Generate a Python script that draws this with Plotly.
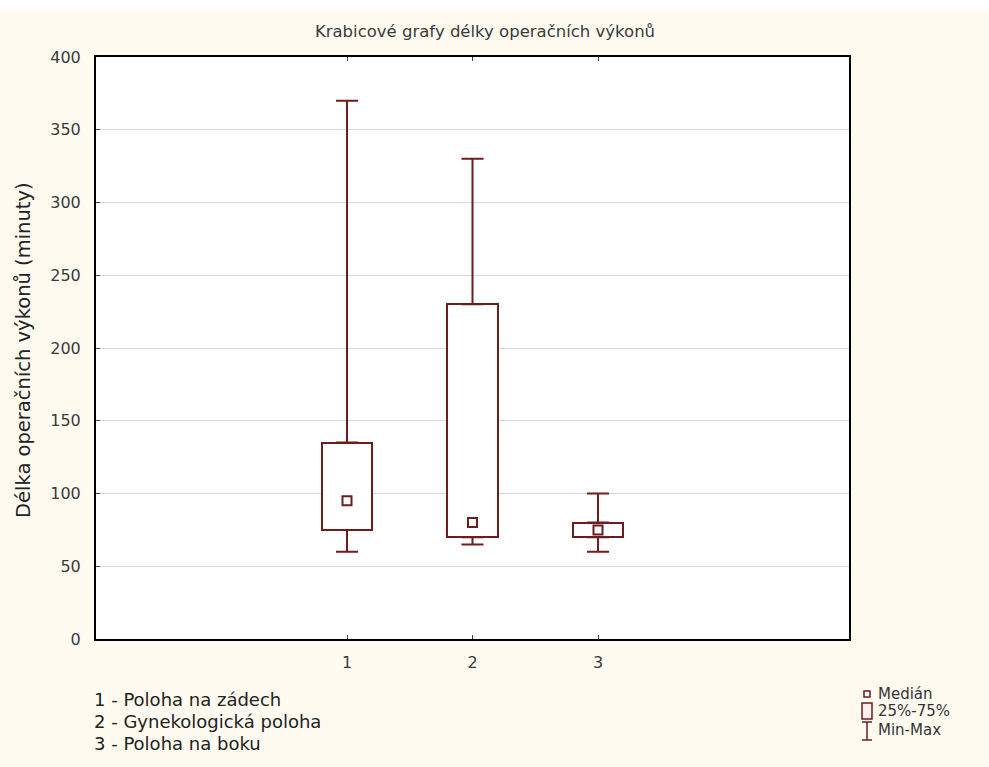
import plotly.graph_objects as go

categories = [1, 2, 3]
minimum = [60, 65, 60]
q1 = [75, 70, 70]
median = [95, 80, 75]
q3 = [135, 230, 80]
maximum = [370, 330, 100]
y_ticks = [0, 50, 100, 150, 200, 250, 300, 350, 400]
group_labels = ["1 - Poloha na zádech", "2 - Gynekologická poloha", "3 - Poloha na boku"]
legend_labels = ["Medián", "25%-75%", "Min-Max"]

DARK = "#6e1c1c"
FONT = "DejaVu Sans, Verdana, sans-serif"
BG = "#fffbf0"

TOPSTRIP = 11          # white strip at top of page
W, H = 989, 767 - TOPSTRIP
L, R, T, B = 96, 849, 57 - TOPSTRIP, 639 - TOPSTRIP
PW, PH = R - L, B - T


def px(xpix):
    return (xpix - L) / PW


def py(ypix):
    return (B - (ypix - TOPSTRIP)) / PH


fig = go.Figure()

# boxes (25%-75%)
fig.add_trace(go.Bar(
    x=categories,
    base=q1,
    y=[b - a for a, b in zip(q1, q3)],
    width=0.4,
    marker=dict(color="white", line=dict(color=DARK, width=2)),
    showlegend=False, hoverinfo="skip",
))
# upper whiskers
fig.add_trace(go.Scatter(
    x=categories, y=q3, mode="markers",
    marker=dict(size=1, color="rgba(0,0,0,0)"),
    error_y=dict(type="data", symmetric=False,
                 array=[mx - b for b, mx in zip(q3, maximum)],
                 arrayminus=[0] * len(categories),
                 color=DARK, thickness=2, width=11),
    showlegend=False, hoverinfo="skip",
))
# lower whiskers
fig.add_trace(go.Scatter(
    x=categories, y=q1, mode="markers",
    marker=dict(size=1, color="rgba(0,0,0,0)"),
    error_y=dict(type="data", symmetric=False,
                 array=[0] * len(categories),
                 arrayminus=[a - mn for a, mn in zip(q1, minimum)],
                 color=DARK, thickness=2, width=11),
    showlegend=False, hoverinfo="skip",
))
# medians
fig.add_trace(go.Scatter(
    x=categories, y=median, mode="markers",
    marker=dict(symbol="square-open", size=9, color=DARK, line=dict(width=2, color=DARK)),
    showlegend=False, hoverinfo="skip",
))

fig.update_layout(
    width=W, height=H,
    margin=dict(l=L, r=W - R, t=T, b=H - B, pad=0),
    paper_bgcolor=BG, plot_bgcolor="white",
    font=dict(family=FONT, size=16, color="#333333"),
    title=dict(text="Krabicové grafy délky operačních výkonů",
               x=485 / W, xanchor="center", y=1 - (31 - TOPSTRIP) / H, yanchor="middle",
               font=dict(family=FONT, size=16.5, color="#3a3a3a")),
    showlegend=False,
    bargap=0,
)

fig.update_xaxes(
    range=[-1, 5], tickmode="array", tickvals=categories,
    ticktext=[str(c) for c in categories],
    showgrid=False, zeroline=False,
    showline=True, linecolor="black", linewidth=2, mirror="ticks",
    ticks="inside", ticklen=4, tickcolor="#444444", tickwidth=1,
    ticklabelstandoff=8,
    tickfont=dict(family=FONT, size=16, color="#3a3a3a"),
)
fig.update_yaxes(
    range=[0, 400], tickmode="array", tickvals=y_ticks,
    showgrid=True, gridcolor="#d6d6d6", gridwidth=1, zeroline=False,
    showline=True, linecolor="black", linewidth=2, mirror=True,
    ticks="inside", ticklen=4, tickcolor="#444444", tickwidth=1,
    ticklabelstandoff=10,
    tickfont=dict(family=FONT, size=16, color="#3a3a3a"),
)

# y axis title
fig.add_annotation(
    text="Délka operačních výkonů (minuty)", xref="paper", yref="paper",
    x=px(23), y=py(350), textangle=-90, showarrow=False,
    xanchor="center", yanchor="middle",
    font=dict(family=FONT, size=19.5, color="#222222"),
)

# group description text (bottom left)
for i, lab in enumerate(group_labels):
    fig.add_annotation(
        text=lab, xref="paper", yref="paper",
        x=px(92), y=py(699 + i * 22),
        xanchor="left", yanchor="middle", showarrow=False,
        font=dict(family=FONT, size=18, color="#222222"),
    )

# legend (bottom right)
for i, (lab, yy) in enumerate(zip(legend_labels, [694, 711, 730])):
    fig.add_annotation(
        text=lab, xref="paper", yref="paper",
        x=px(876), y=py(yy),
        xanchor="left", yanchor="middle", showarrow=False,
        font=dict(family=FONT, size=15, color="#333333"),
    )
# median symbol
fig.add_shape(type="rect", xref="paper", yref="paper",
              x0=px(864), x1=px(870), y0=py(697), y1=py(691),
              line=dict(color=DARK, width=1.5), fillcolor="white")
# box symbol
fig.add_shape(type="rect", xref="paper", yref="paper",
              x0=px(862), x1=px(872), y0=py(719), y1=py(703),
              line=dict(color=DARK, width=1.5), fillcolor="#fff0f0")
# min-max symbol
fig.add_shape(type="line", xref="paper", yref="paper",
              x0=px(867), x1=px(867), y0=py(740), y1=py(722),
              line=dict(color=DARK, width=1.5))
fig.add_shape(type="line", xref="paper", yref="paper",
              x0=px(862), x1=px(872), y0=py(722), y1=py(722),
              line=dict(color=DARK, width=1.5))
fig.add_shape(type="line", xref="paper", yref="paper",
              x0=px(862), x1=px(872), y0=py(740), y1=py(740),
              line=dict(color=DARK, width=1.5))

post = ("document.body.style.margin='%dpx 0 0 0';"
        "document.body.style.padding='0';"
        "document.body.style.background='#ffffff';"
        "document.body.style.overflow='hidden';") % TOPSTRIP

fig.write_html("out.html", post_script=post)
